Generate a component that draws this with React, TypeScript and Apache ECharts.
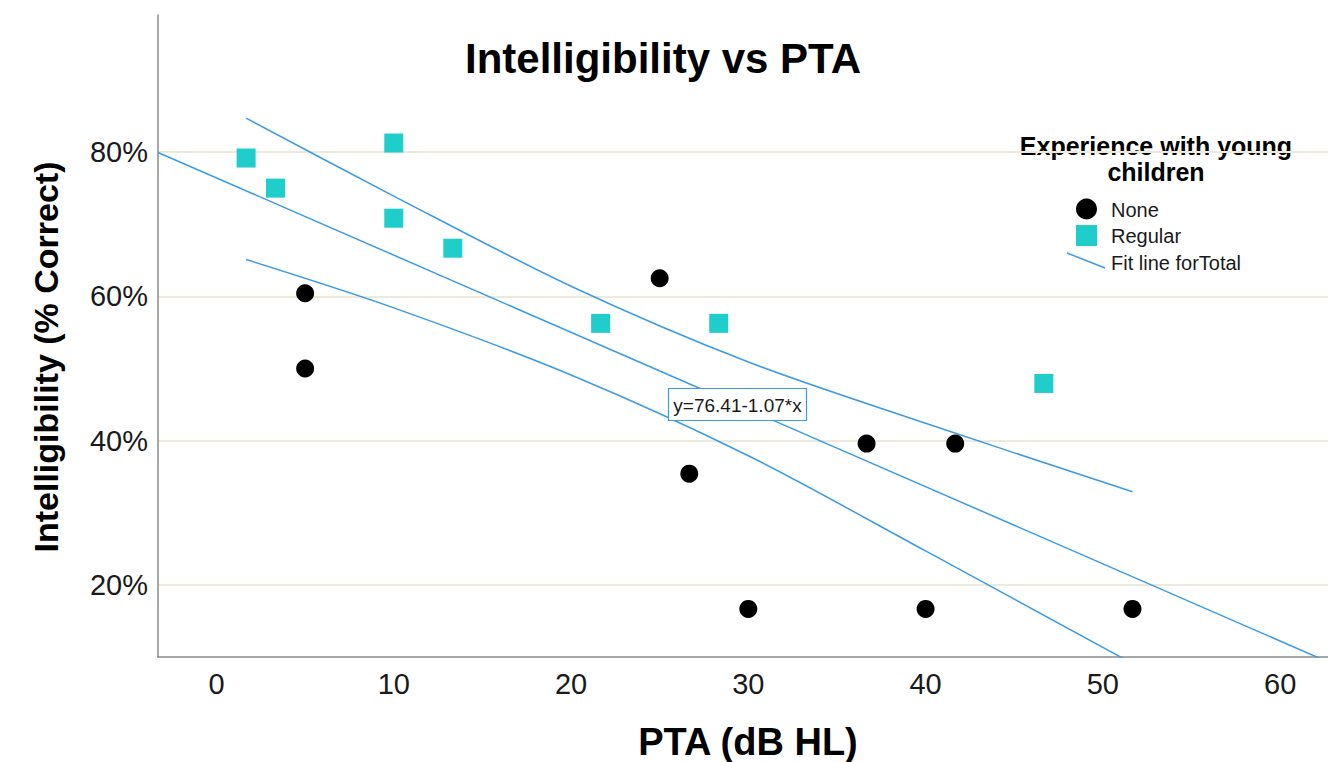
import React, { useEffect, useRef } from "react";
import * as echarts from "echarts";

// ---- Data ----
const noneSeries: [number, number][] = [
  [3.33, 75.0],
  [5, 60.42],
  [5, 50.0],
  [25, 62.5],
  [26.67, 35.42],
  [30, 16.67],
  [36.67, 39.58],
  [40, 16.67],
  [41.67, 39.58],
  [51.67, 16.67],
];
const regularSeries: [number, number][] = [
  [1.67, 79.17],
  [3.33, 75.0],
  [10, 81.25],
  [10, 70.83],
  [13.33, 66.67],
  [21.67, 56.25],
  [28.33, 56.25],
  [46.67, 47.92],
];
// fit line for total: y = 76.41 - 1.07*x
const fitIntercept = 76.41;
const fitSlope = -1.07;
// confidence band curves
const upperBand: [number, number][] = [
  [1.67, 84.7],
  [10, 73.9],
  [20, 61.4],
  [30, 50.9],
  [40, 42.4],
  [51.67, 32.9],
];
const lowerBand: [number, number][] = [
  [1.67, 65.1],
  [10, 58.4],
  [20, 49.1],
  [30, 37.9],
  [40, 24.7],
  [51.67, 9.1],
];
const xRange = [-3.3, 62.7];
const yRange = [10, 99];

const FONT = "'Liberation Sans', Arial, Helvetica, sans-serif";
const BLUE = "#3B9BE8";
const TEAL = "#1FCECB";

export default function App() {
  const ref = useRef<HTMLDivElement>(null);
  useEffect(() => {
    if (!ref.current) return;
    const chart = echarts.init(ref.current, null, { renderer: "svg" });
    const fitData = xRange.map((x) => [x, fitIntercept + fitSlope * x]);
    chart.setOption({
      animation: false,
      backgroundColor: "#ffffff",
      textStyle: { fontFamily: FONT },
      grid: { left: 158, right: 0, top: 15, bottom: 105, containLabel: false },
      xAxis: {
        type: "value",
        min: xRange[0],
        max: xRange[1],
        splitNumber: 6,
        axisLine: { show: true, onZero: false, lineStyle: { color: "#8a8a8a", width: 1.5 } },
        axisTick: { show: false },
        splitLine: { show: false },
        axisLabel: {
          fontSize: 29,
          color: "#1a1a1a",
          margin: 12,
          fontFamily: FONT,
          showMinLabel: false,
          showMaxLabel: false,
        },
      },
      yAxis: {
        type: "value",
        min: yRange[0],
        max: yRange[1],
        splitNumber: 5,
        axisLine: { show: true, onZero: false, lineStyle: { color: "#8a8a8a", width: 1.5 } },
        axisTick: { show: false },
        splitLine: {
          show: true,
          showMinLine: false,
          showMaxLine: false,
          lineStyle: { color: "#EEEAD9", width: 2 },
        },
        axisLabel: {
          fontSize: 29,
          color: "#1a1a1a",
          margin: 10,
          fontFamily: FONT,
          showMinLabel: false,
          showMaxLabel: false,
          formatter: (v: number) => `${v}%`,
        },
      },
      series: [
        {
          name: "Upper",
          type: "line",
          data: upperBand,
          smooth: 0.3,
          showSymbol: false,
          lineStyle: { color: BLUE, width: 1.5 },
          z: 2,
        },
        {
          name: "Lower",
          type: "line",
          data: lowerBand,
          smooth: 0.3,
          showSymbol: false,
          lineStyle: { color: BLUE, width: 1.5 },
          z: 2,
        },
        {
          name: "Fit line forTotal",
          type: "line",
          data: fitData,
          showSymbol: false,
          lineStyle: { color: BLUE, width: 1.5 },
          z: 2,
        },
        {
          name: "None",
          type: "scatter",
          data: noneSeries,
          symbol: "circle",
          symbolSize: 18,
          itemStyle: { color: "#000000", opacity: 1 },
          z: 3,
        },
        {
          name: "Regular",
          type: "scatter",
          data: regularSeries,
          symbol: "rect",
          symbolSize: 19,
          itemStyle: { color: TEAL, opacity: 1 },
          z: 4,
        },
      ],
      graphic: [
        {
          type: "text",
          x: 663,
          y: 58,
          style: {
            text: "Intelligibility vs PTA",
            font: `bold 42px ${FONT}`,
            fill: "#000",
            align: "center",
            verticalAlign: "middle",
          },
        },
        {
          type: "text",
          x: 46,
          y: 357,
          rotation: Math.PI / 2,
          style: {
            text: "Intelligibility (% Correct)",
            font: `bold 34px ${FONT}`,
            fill: "#000",
            align: "center",
            verticalAlign: "middle",
          },
        },
        {
          type: "text",
          x: 748,
          y: 742,
          style: {
            text: "PTA (dB HL)",
            font: `bold 38px ${FONT}`,
            fill: "#000",
            align: "center",
            verticalAlign: "middle",
          },
        },
        // equation label
        {
          type: "rect",
          z: 10,
          shape: { x: 668.5, y: 388.5, width: 138, height: 32 },
          style: { fill: "#ffffff", stroke: BLUE, lineWidth: 1.2 },
        },
        {
          type: "text",
          z: 11,
          x: 737.5,
          y: 405,
          style: {
            text: "y=76.41-1.07*x",
            font: `19px ${FONT}`,
            fill: "#1a1a1a",
            align: "center",
            verticalAlign: "middle",
          },
        },
        // legend
        {
          type: "text",
          x: 1156,
          y: 146,
          style: {
            text: "Experience with young",
            font: `bold 25px ${FONT}`,
            fill: "#000",
            align: "center",
            verticalAlign: "middle",
          },
        },
        {
          type: "text",
          x: 1156,
          y: 172,
          style: {
            text: "children",
            font: `bold 25px ${FONT}`,
            fill: "#000",
            align: "center",
            verticalAlign: "middle",
          },
        },
        {
          type: "circle",
          shape: { cx: 1086.5, cy: 209, r: 10.5 },
          style: { fill: "#000" },
        },
        {
          type: "rect",
          shape: { x: 1076, y: 225, width: 21, height: 21 },
          style: { fill: TEAL },
        },
        {
          type: "line",
          shape: { x1: 1067, y1: 253, x2: 1105, y2: 268 },
          style: { stroke: BLUE, lineWidth: 1.5 },
        },
        {
          type: "text",
          x: 1111,
          y: 210,
          style: {
            text: "None",
            font: `20px ${FONT}`,
            fill: "#1a1a1a",
            align: "left",
            verticalAlign: "middle",
          },
        },
        {
          type: "text",
          x: 1111,
          y: 236,
          style: {
            text: "Regular",
            font: `20px ${FONT}`,
            fill: "#1a1a1a",
            align: "left",
            verticalAlign: "middle",
          },
        },
        {
          type: "text",
          x: 1111,
          y: 263,
          style: {
            text: "Fit line forTotal",
            font: `20px ${FONT}`,
            fill: "#1a1a1a",
            align: "left",
            verticalAlign: "middle",
          },
        },
      ],
    });
    return () => chart.dispose();
  }, []);
  return (
    <div
      ref={ref}
      style={{ position: "fixed", left: 0, top: 0, width: 1328, height: 762, background: "#fff" }}
    />
  );
}
